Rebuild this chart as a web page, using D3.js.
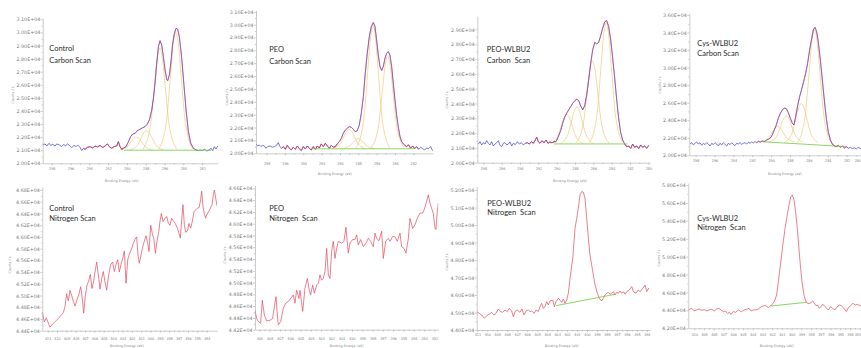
<!DOCTYPE html>
<html>
<head>
<meta charset="utf-8">
<script src="https://cdn.jsdelivr.net/npm/d3@7"></script>
<style>
  html, body { margin: 0; padding: 0; background: #fff; }
  svg { display: block; }
</style>
</head>
<body>
<svg id="chart" width="861" height="348"></svg>
<script>
// ---- data: [binding energy (eV), counts / s] ----
const controlCarbon = [[298.96,21400],[298.71,21480],[298.53,21320],[298.28,21530],[298.11,21370],[297.89,21450],[297.65,21320],[297.47,21480],[297.18,21400],[296.94,21270],[296.76,21430],[296.51,21350],[296.30,21480],[296.05,21320],[295.87,21200],[295.62,21370],[295.41,21270],[295.23,21400],[294.99,21220],[294.81,20970],[294.63,21150],[294.45,21070],[294.21,21220],[293.92,21270],[293.64,21170],[293.39,21320],[293.14,21250],[292.86,21370],[292.57,21200],[292.33,21320],[292.08,21480],[291.87,21270],[291.62,21150],[291.37,21270],[291.09,21320],[290.91,21650],[290.73,21270],[290.55,21070],[290.38,21150],[290.09,21270],[289.84,21650],[289.60,22040],[289.38,22240],[289.13,22290],[288.89,22500],[288.60,22600],[288.32,22720],[288.07,22800],[287.82,23000],[287.61,23310],[287.36,24070],[287.18,24960],[287.01,26110],[286.83,27640],[286.65,28910],[286.48,29370],[286.30,29040],[286.12,28150],[285.94,27130],[285.77,26420],[285.66,26310],[285.48,26750],[285.30,27890],[285.13,29170],[284.95,29930],[284.77,30310],[284.60,30240],[284.42,29670],[284.17,28020],[283.92,25860],[283.71,24070],[283.46,22420],[283.21,21530],[282.93,21150],[282.65,21020],[282.40,20970],[282.22,21020],[281.97,20970],[281.76,21070],[281.51,20940],[281.26,21020],[281.05,21150],[280.87,20970],[280.70,21270],[280.52,21090],[280.34,21320]];
const controlCarbonPeaks = [
  [[290.8,21010],[290.0,21240],[289.6,21600],[289.3,21880],[289.0,22000],[288.7,21880],[288.4,21600],[288.0,21240],[287.2,21010]],
  [[289.7,21020],[288.9,21360],[288.5,21900],[288.2,22320],[287.9,22500],[287.6,22320],[287.3,21900],[286.9,21360],[286.1,21020]],
  [[288.3,21080],[287.5,22900],[287.1,25680],[286.8,27860],[286.5,28800],[286.2,27860],[285.9,25680],[285.5,22900],[284.7,21080]],
  [[286.6,21090],[285.8,23190],[285.4,26400],[285.1,28920],[284.8,30000],[284.5,28920],[284.2,26400],[283.8,23190],[283.0,21090]]
];
const controlCarbonBase = [[290.3,21000],[281.0,21000]];

const peoCarbon = [[299.16,20730],[298.98,20570],[298.80,20650],[298.62,20520],[298.44,20620],[298.25,20570],[298.07,20390],[297.89,20520],[297.64,20570],[297.38,20470],[297.16,20520],[296.91,20620],[296.73,20830],[296.55,20520],[296.36,20390],[296.18,20520],[295.96,20310],[295.75,20620],[295.53,20390],[295.31,20260],[295.09,20470],[294.87,20310],[294.65,20570],[294.44,20360],[294.22,20210],[294.00,20520],[293.78,20340],[293.56,20570],[293.35,20390],[293.13,20260],[292.91,20520],[292.69,20310],[292.47,20570],[292.25,20410],[292.04,20730],[291.82,20520],[291.60,20780],[291.38,20570],[291.16,20390],[290.95,20620],[290.73,20470],[290.51,20520],[290.29,20730],[290.07,20910],[289.85,21170],[289.64,21550],[289.42,21810],[289.20,21940],[288.98,22070],[288.76,22020],[288.55,21870],[288.33,21680],[288.11,21760],[287.89,22200],[287.67,23110],[287.45,24400],[287.24,26220],[287.02,27770],[286.80,29070],[286.58,29850],[286.36,30160],[286.18,29850],[286.00,28810],[285.82,27640],[285.64,26740],[285.45,26430],[285.27,26740],[285.09,27380],[284.91,27770],[284.73,27900],[284.55,27640],[284.36,26740],[284.18,25440],[284.00,24150],[283.82,22980],[283.64,22070],[283.45,21300],[283.27,20910],[283.09,20730],[282.91,20620],[282.73,20520],[282.51,20650],[282.29,20390],[282.07,20570],[281.85,20360],[281.64,20520],[281.42,20310],[281.20,20470],[280.98,20360],[280.76,20260],[280.55,20410],[280.33,20360],[280.11,20520],[279.89,20210]];
const peoCarbonPeaks = [
  [[290.8,20370],[290.0,20710],[289.6,21250],[289.3,21670],[289.0,21850],[288.7,21670],[288.4,21250],[288.0,20710],[287.2,20370]],
  [[289.8,20360],[289.0,20540],[288.6,20830],[288.3,21050],[288.0,21150],[287.7,21050],[287.4,20830],[287.0,20540],[286.2,20360]],
  [[288.2,20450],[287.4,22680],[287.0,26110],[286.7,28800],[286.4,29950],[286.1,28800],[285.8,26110],[285.4,22680],[284.6,20450]],
  [[286.6,20420],[285.8,22100],[285.4,24670],[285.1,26690],[284.8,27550],[284.5,26690],[284.2,24670],[283.8,22100],[283.0,20420]]
];
const peoCarbonBase = [[293.0,20350],[281.9,20350]];

const peoWlbu2Carbon = [[298.55,21260],[298.36,21420],[298.18,21200],[298.00,21350],[297.82,21260],[297.64,21490],[297.45,21310],[297.27,21200],[297.09,21420],[296.91,21130],[296.73,21260],[296.55,21350],[296.36,21490],[296.18,21170],[296.00,21080],[295.82,21310],[295.64,21350],[295.45,21200],[295.27,21260],[295.09,21400],[294.91,21130],[294.73,21310],[294.51,21220],[294.29,21420],[294.07,21260],[293.85,21350],[293.64,21200],[293.42,21310],[293.20,21350],[292.98,21260],[292.76,21420],[292.55,21310],[292.33,21530],[292.18,21720],[292.00,21420],[291.82,21310],[291.60,21490],[291.38,21350],[291.16,21530],[290.95,21310],[290.73,21400],[290.51,21350],[290.29,21420],[290.07,21420],[289.82,21760],[289.56,22170],[289.35,22660],[289.13,23070],[288.91,23340],[288.69,23570],[288.47,23790],[288.25,24020],[288.04,24180],[287.82,24290],[287.60,24200],[287.38,23840],[287.16,23570],[286.95,23840],[286.73,24580],[286.51,25600],[286.29,26730],[286.07,27630],[285.85,28130],[285.64,28030],[285.42,28130],[285.20,28580],[284.98,29100],[284.76,29520],[284.55,29610],[284.33,29210],[284.11,28310],[283.89,27060],[283.67,25710],[283.45,24240],[283.24,23000],[283.02,22030],[282.80,21530],[282.58,21260],[282.36,21080],[282.15,21130],[281.93,20970],[281.71,21260],[281.49,21040],[281.27,21130],[281.05,20950],[280.84,21200],[280.62,21040],[280.40,21130],[280.18,20970],[279.96,21170]];
const peoWlbu2CarbonPeaks = [
  [[290.7,21290],[289.9,21760],[289.5,22470],[289.2,23030],[288.9,23270],[288.6,23030],[288.3,22470],[287.9,21760],[287.1,21290]],
  [[289.6,21300],[288.8,21880],[288.4,22770],[288.1,23470],[287.8,23770],[287.5,23470],[287.2,22770],[286.8,21880],[286.0,21300]],
  [[287.9,21330],[287.1,22630],[286.7,24630],[286.4,26200],[286.1,26870],[285.8,26200],[285.5,24630],[285.1,22630],[284.3,21330]],
  [[286.4,21350],[285.6,23260],[285.2,26190],[284.9,28490],[284.6,29470],[284.3,28490],[284.0,26190],[283.6,23260],[282.8,21350]]
];
const peoWlbu2CarbonBase = [[290.3,21270],[282.3,21270]];

const cysWlbu2Carbon = [[298.60,21290],[298.42,21440],[298.25,21180],[298.07,21370],[297.89,21520],[297.72,21290],[297.54,21440],[297.36,21140],[297.19,21370],[297.01,21220],[296.83,21440],[296.66,21290],[296.48,21060],[296.30,21370],[296.13,21220],[295.95,21440],[295.77,21290],[295.60,21060],[295.42,21370],[295.24,21180],[295.07,21440],[294.89,21250],[294.71,21060],[294.54,21370],[294.36,21220],[294.18,21440],[294.01,21250],[293.83,21100],[293.65,21370],[293.48,21290],[293.30,21440],[293.12,21250],[292.95,21370],[292.77,21440],[292.59,21290],[292.42,21480],[292.24,21370],[292.06,21520],[291.89,21410],[291.71,21560],[291.53,21440],[291.36,21600],[291.14,21520],[290.93,21630],[290.72,21560],[290.51,21710],[290.30,21830],[290.08,21980],[289.87,22320],[289.66,22890],[289.45,23460],[289.24,24220],[289.02,24790],[288.81,25170],[288.60,25400],[288.39,25320],[288.18,24870],[287.96,24220],[287.75,23650],[287.58,23460],[287.40,24410],[287.19,25630],[286.98,26690],[286.76,27530],[286.55,28400],[286.34,29350],[286.13,30490],[285.92,32010],[285.70,33350],[285.53,34300],[285.35,34600],[285.17,34110],[285.00,32970],[284.78,30870],[284.57,28590],[284.36,26310],[284.15,24220],[283.94,22700],[283.72,21750],[283.51,21290],[283.30,21060],[283.09,20990],[282.88,21140],[282.66,20910],[282.45,21060],[282.24,20840],[282.03,20990],[281.82,20800],[281.60,20910],[281.39,20760],[281.18,20870],[280.97,20720],[280.76,20910],[280.54,20760],[280.33,20840],[280.12,20680],[279.94,20800]];
const cysWlbu2CarbonPeaks = [
  [[291.1,21520],[290.3,21940],[289.9,22580],[289.6,23080],[289.3,23300],[289.0,23080],[288.7,22580],[288.3,21940],[287.5,21520]],
  [[290.2,21510],[289.4,22210],[289.0,23280],[288.7,24120],[288.4,24480],[288.1,24120],[287.8,23280],[287.4,22210],[286.6,21510]],
  [[288.6,21450],[287.8,22490],[287.4,24100],[287.1,25360],[286.8,25900],[286.5,25360],[286.2,24100],[285.8,22490],[285.0,21450]],
  [[287.2,21430],[286.4,24460],[286.0,29100],[285.7,32740],[285.4,34300],[285.1,32740],[284.8,29100],[284.4,24460],[283.6,21430]]
];
const cysWlbu2CarbonBase = [[291.0,21550],[282.2,21000]];

const controlNitrogen = [[411.57,44720],[411.36,44550],[411.14,44620],[410.93,44530],[410.75,44460],[410.50,44510],[410.29,44540],[410.04,44580],[409.79,44620],[409.54,44670],[409.32,44710],[409.15,44810],[408.97,45030],[408.79,44910],[408.61,45090],[408.43,45000],[408.25,44900],[408.08,44820],[407.90,44910],[407.68,45010],[407.47,45150],[407.29,44940],[407.15,44700],[406.97,45000],[406.79,45180],[406.61,45250],[406.44,45360],[406.26,45120],[406.08,45250],[405.90,45440],[405.76,45570],[405.58,45350],[405.40,45110],[405.22,45290],[405.05,45410],[404.87,45230],[404.69,45090],[404.48,45350],[404.26,45530],[404.05,45570],[403.87,45410],[403.69,45530],[403.51,45610],[403.34,45400],[403.16,45530],[402.98,45630],[402.80,45760],[402.62,45210],[402.44,45610],[402.27,45700],[402.05,45790],[401.84,45890],[401.66,45960],[401.48,46000],[401.34,45690],[401.20,45550],[401.05,45660],[400.84,45830],[400.66,45930],[400.48,46020],[400.30,45890],[400.16,45750],[399.98,46200],[399.81,46060],[399.63,45950],[399.48,45720],[399.31,45920],[399.13,46080],[398.99,46260],[398.84,46400],[398.66,46260],[398.49,46310],[398.27,46350],[398.09,46230],[397.92,46200],[397.74,46320],[397.56,46270],[397.35,46230],[397.13,46150],[396.95,46060],[396.81,45980],[396.67,46290],[396.53,46550],[396.38,46200],[396.24,46080],[396.06,46100],[395.88,46230],[395.71,46150],[395.53,46260],[395.35,46430],[395.17,46460],[394.99,46490],[394.81,46500],[394.64,46630],[394.53,46780],[394.39,46520],[394.24,46390],[394.10,46320],[393.96,46390],[393.78,46430],[393.60,46490],[393.42,46550],[393.28,46720],[393.17,46800],[393.03,46660],[392.89,46530]];

const peoNitrogen = [[409.42,44530],[409.26,44390],[409.10,44340],[408.87,44310],[408.71,44700],[408.51,44450],[408.29,44350],[407.96,44360],[407.71,44390],[407.54,44590],[407.38,44760],[407.25,44450],[407.16,44280],[406.93,44340],[406.67,44560],[406.44,44650],[406.18,44680],[405.96,44730],[405.70,44790],[405.54,44650],[405.38,44870],[405.15,44730],[405.05,44870],[404.79,44510],[404.57,44900],[404.34,45070],[404.15,44870],[404.02,44790],[403.82,44960],[403.66,44820],[403.43,44960],[403.27,44990],[403.11,45130],[402.95,45040],[402.79,45070],[402.62,45190],[402.46,45580],[402.30,45130],[402.14,45070],[401.98,45530],[401.82,45700],[401.65,45410],[401.49,45580],[401.33,45700],[401.01,45670],[400.78,45700],[400.59,45940],[400.36,45500],[400.20,45670],[399.94,45730],[399.71,45730],[399.55,45810],[399.39,45640],[399.16,45730],[398.90,45610],[398.64,45670],[398.42,45750],[398.19,45700],[397.93,45610],[397.77,45840],[397.61,45750],[397.38,45710],[397.12,45870],[396.96,45410],[396.73,45700],[396.48,45750],[396.31,45700],[396.06,45780],[395.83,45780],[395.60,45700],[395.34,45840],[395.18,45610],[394.95,45580],[394.76,45500],[394.53,45750],[394.37,46090],[394.11,45920],[393.89,45980],[393.66,46090],[393.40,46180],[393.14,46180],[392.98,46240],[392.75,46380],[392.59,46490],[392.43,46350],[392.27,46260],[392.11,46180],[391.94,45920],[391.85,45900],[391.72,46210],[391.62,46350]];

const peoWlbu2Nitrogen = [[411.07,45050],[410.80,44950],[410.57,44860],[410.30,44670],[410.06,44820],[409.80,44900],[409.56,45010],[409.33,44860],[409.13,44950],[408.89,45200],[408.66,45050],[408.46,45010],[408.22,45140],[407.99,45050],[407.79,45240],[407.56,45090],[407.39,44760],[407.22,45050],[406.99,45140],[406.72,45010],[406.52,45200],[406.32,44860],[406.12,45090],[405.88,45140],[405.72,45050],[405.55,45090],[405.31,44950],[405.11,45140],[404.88,45050],[404.71,45330],[404.55,45520],[404.38,45240],[404.21,45330],[404.04,45620],[403.88,45430],[403.71,45660],[403.44,45710],[403.27,45330],[403.11,45620],[402.87,45810],[402.71,45710],[402.54,45580],[402.37,45770],[402.20,45520],[402.04,45710],[401.87,46100],[401.70,46950],[401.43,48100],[401.20,49810],[401.03,50380],[400.87,50950],[400.70,51720],[400.53,51910],[400.36,51870],[400.20,51520],[400.03,50380],[399.86,49240],[399.70,48290],[399.53,47710],[399.36,47140],[399.19,46570],[398.96,46100],[398.76,45810],[398.53,45660],[398.36,45810],[398.19,46000],[398.02,46100],[397.86,46150],[397.69,46040],[397.52,46100],[397.35,46190],[397.19,46000],[397.02,46150],[396.85,46100],[396.69,46230],[396.52,46100],[396.35,46190],[396.18,46040],[396.02,46190],[395.75,46290],[395.51,46480],[395.35,46190],[395.08,46100],[394.85,46290],[394.68,46190],[394.41,46380],[394.18,46570],[394.01,46190],[393.80,46400]];
const peoWlbu2NitrogenBase = [[403.11,45390],[397.19,46040]];

const cysWlbu2Nitrogen = [[410.62,44050],[410.27,44230],[410.00,43930],[409.76,44050],[409.52,44160],[409.25,44010],[408.97,44080],[408.73,43930],[408.49,44050],[408.22,44120],[407.95,43930],[407.71,44160],[407.47,44230],[407.26,44050],[407.02,43860],[406.85,43930],[406.58,43670],[406.40,43790],[406.23,43560],[405.99,43860],[405.75,43790],[405.48,44050],[405.31,43930],[405.14,43860],[404.86,44050],[404.62,44120],[404.38,44230],[404.18,43930],[403.94,44050],[403.70,44050],[403.42,44160],[403.25,44310],[403.08,44420],[402.91,44490],[402.67,44530],[402.40,44310],[402.23,44460],[402.05,44600],[401.78,44980],[401.54,45720],[401.37,47210],[401.20,48700],[401.03,50190],[400.86,51670],[400.68,53160],[400.51,54280],[400.27,55770],[400.10,56700],[399.93,56880],[399.76,56330],[399.59,55020],[399.42,53160],[399.25,50930],[399.08,48700],[398.90,46840],[398.73,45720],[398.56,45050],[398.39,44790],[398.22,44750],[398.01,44870],[397.84,45050],[397.67,44790],[397.50,44530],[397.33,44600],[397.16,44230],[396.99,44420],[396.82,44680],[396.64,44530],[396.47,44310],[396.23,44050],[395.99,44420],[395.79,44230],[395.55,44050],[395.31,44420],[395.07,44600],[394.86,44490],[394.62,44230],[394.38,43860],[394.18,44310],[393.94,44530],[393.70,44790],[393.46,44600],[393.22,44680],[392.98,44530],[392.74,44420],[392.47,44600]];
const cysWlbu2NitrogenBase = [[402.12,44490],[398.46,44900]];

// tick labels
const energyTicksC = [298, 296, 294, 292, 290, 288, 286, 284, 282];
const energyTicksC280 = [298, 296, 294, 292, 290, 288, 286, 284, 282, 280];
const energyTicksN411 = [411, 410, 409, 408, 407, 406, 405, 404, 403, 402, 401, 400, 399, 398, 397, 396, 395, 394];
const energyTicksN409 = [409, 408, 407, 406, 405, 404, 403, 402, 401, 400, 399, 398, 397, 396, 395, 394, 393, 392];
const energyTicksN410 = [410, 409, 408, 407, 406, 405, 404, 403, 402, 401, 400, 399, 398, 397, 396, 395, 394, 393];
const countTicksC1 = [20000, 21000, 22000, 23000, 24000, 25000, 26000, 27000, 28000, 29000, 30000, 31000];
const countTicksC3 = [20000, 21000, 22000, 23000, 24000, 25000, 26000, 27000, 28000, 29000];
const countTicksC4 = [20000, 22000, 24000, 26000, 28000, 30000, 32000, 34000, 36000];
const countTicksN1 = [44400, 44600, 44800, 45000, 45200, 45400, 45600, 45800, 46000, 46200, 46400, 46600, 46800];
const countTicksN2 = [44200, 44400, 44600, 44800, 45000, 45200, 45400, 45600, 45800, 46000, 46200, 46400, 46600];
const countTicksN3 = [44000, 45000, 46000, 47000, 48000, 49000, 50000, 51000, 52000];
const countTicksN4 = [42000, 44000, 46000, 48000, 50000, 52000, 54000, 56000, 58000];

const BLUE = '#3b3bd6';
const RED = '#e2323c';
const NRED = '#e2485e';
const COMP = '#f0c064';
const GREEN = '#6ccb3c';
const WIDTH = 861;

// layout of the eight spectra
const panels = [
  { data: controlCarbon, peaks: controlCarbonPeaks, base: controlCarbonBase, name: ['Control', 'Carbon Scan'],
    xDomain: [298.96, 280.3], yDomain: [20000, 31100], left: 42.7, right: 218.1, top: 18.0, bottom: 163.3,
    xTicks: energyTicksC, yTicks: countTicksC1, xPad: 1.7, color: BLUE,
    regions: [{ from: 294.6, to: 290.4, kind: 'red' }, { from: 290.4, to: 282.6, kind: 'fit' }],
    nameAt: [49.3, 51], nameGap: 12, xTitleAt: [121.7, 182], yTitleAt: [12.7, 95] },
  { data: peoCarbon, peaks: peoCarbonPeaks, base: peoCarbonBase, name: ['PEO', 'Carbon Scan'],
    xDomain: [299.16, 279.85], yDomain: [20000, 31100], left: 256, right: 433, top: 10.4, bottom: 153.3,
    xTicks: energyTicksC, yTicks: countTicksC1, xPad: 7.4, color: BLUE,
    regions: [{ from: 296.2, to: 290.3, kind: 'red' }, { from: 290.3, to: 282.9, kind: 'fit' }, { from: 282.9, to: 281.6, kind: 'red' }],
    nameAt: [269.3, 52], nameGap: 12, xTitleAt: [335, 175], yTitleAt: [227, 97] },
  { data: peoWlbu2Carbon, peaks: peoWlbu2CarbonPeaks, base: peoWlbu2CarbonBase, name: ['PEO-WLBU2', 'Carbon  Scan'],
    xDomain: [298.66, 279.82], yDomain: [20000, 29900], left: 477.3, right: 650, top: 16.2, bottom: 162.7,
    xTicks: energyTicksC280, yTicks: countTicksC3, xPad: 2.4, color: BLUE,
    regions: [{ from: 293.3, to: 290.2, kind: 'red' }, { from: 290.2, to: 282.4, kind: 'fit' }, { from: 282.4, to: 279.8, kind: 'red' }],
    nameAt: [486.7, 52], nameGap: 11, xTitleAt: [570, 182], yTitleAt: [446.7, 100] },
  { data: cysWlbu2Carbon, peaks: cysWlbu2CarbonPeaks, base: cysWlbu2CarbonBase, name: ['Cys-WLBU2', 'Carbon Scan'],
    xDomain: [298.675, 279.94], yDomain: [20000, 36200], left: 689.3, right: 866, top: 13.3, bottom: 155.3,
    xTicks: energyTicksC280, yTicks: countTicksC4, xPad: 2.0, color: BLUE,
    regions: [{ from: 291.4, to: 283.4, kind: 'fit' }, { from: 283.4, to: 282.0, kind: 'red' }],
    nameAt: [697.3, 45.5], nameGap: 10, xTitleAt: [785, 174.5], yTitleAt: [660, 85] },
  { data: controlNitrogen, name: ['Control', 'Nitrogen Scan'],
    xDomain: [411.574, 392.89], yDomain: [44400, 46850], left: 42.3, right: 217, top: 187.1, bottom: 330.7,
    xTicks: energyTicksN411, yTicks: countTicksN1, xPad: 5, color: NRED,
    nameAt: [49.3, 211], nameGap: 10, xTitleAt: [127, 346.8], yTitleAt: [10, 265] },
  { data: peoNitrogen, name: ['PEO', 'Nitrogen  Scan'],
    xDomain: [409.42, 391.62], yDomain: [44200, 46650], left: 255, right: 438.3, top: 185.4, bottom: 329.7,
    xTicks: energyTicksN409, yTicks: countTicksN2, xPad: 6, color: NRED,
    nameAt: [269.3, 211], nameGap: 10, xTitleAt: [346.7, 346.8], yTitleAt: [225, 255] },
  { data: peoWlbu2Nitrogen, base: peoWlbu2NitrogenBase, name: ['PEO-WLBU2', 'Nitrogen  Scan'],
    xDomain: [411.063, 393.68], yDomain: [44000, 52200], left: 476.7, right: 650, top: 186.5, bottom: 330,
    xTicks: energyTicksN411, yTicks: countTicksN3, xPad: 1.0, color: NRED,
    nameAt: [487.3, 206], nameGap: 8.5, xTitleAt: [561.7, 346.5], yTitleAt: [446.7, 262] },
  { data: cysWlbu2Nitrogen, base: cysWlbu2NitrogenBase, name: ['Cys-WLBU2', 'Nitrogen  Scan'],
    xDomain: [410.62, 392.36], yDomain: [42000, 58200], left: 688.3, right: 866, top: 183.2, bottom: 328.3,
    xTicks: energyTicksN410, yTicks: countTicksN4, xPad: 2.7, color: NRED,
    nameAt: [697.3, 220.5], nameGap: 9.5, xTitleAt: [776.7, 346.5], yTitleAt: [658.3, 258] }
];

const svg = d3.select('#chart');
const fmtCounts = v => (v / 1e4).toFixed(2) + 'E+04';

panels.forEach(drawPanel);

// points between two energies, plus one neighbour each side so segments join up
function sliceRange(data, from, to) {
  const idx = data.map((d, i) => i).filter(i => data[i][0] <= from && data[i][0] >= to);
  const lo = Math.max(0, idx[0] - 1);
  const hi = Math.min(data.length - 1, idx[idx.length - 1] + 1);
  return data.slice(lo, hi + 1);
}

function styleAxis(sel, size, family) {
  sel.attr('font-size', size).attr('font-family', family).attr('color', '#a8a8a8');
  sel.selectAll('path, line').attr('stroke-width', 0.6);
  sel.selectAll('text').attr('fill', '#7c7c7c');
}

function drawPanel(p, i) {
  const x = d3.scaleLinear().domain(p.xDomain).range([p.left, p.right]);
  const y = d3.scaleLinear().domain(p.yDomain).range([p.bottom, p.top]);
  const g = svg.append('g').attr('class', 'panel');

  g.append('clipPath').attr('id', 'clip' + i).append('rect')
    .attr('x', p.left).attr('y', p.top - 2)
    .attr('width', p.right - p.left).attr('height', p.bottom - p.top + 2);
  const plot = g.append('g').attr('clip-path', `url(#clip${i})`);

  const line = d3.line().x(d => x(d[0])).y(d => y(d[1]));
  const smooth = d3.line().curve(d3.curveMonotoneX).x(d => x(d[0])).y(d => y(d[1]));

  // fitted components
  (p.peaks || []).forEach(pk => {
    plot.append('path').attr('d', smooth(pk))
      .attr('fill', 'none').attr('stroke', COMP).attr('stroke-width', 0.6);
  });

  // measured spectrum
  plot.append('path').attr('d', line(p.data))
    .attr('fill', 'none').attr('stroke', p.color).attr('stroke-width', 0.7);

  // red envelope / red-drawn parts
  (p.regions || []).forEach(r => {
    plot.append('path').attr('d', line(sliceRange(p.data, r.from, r.to)))
      .attr('fill', 'none').attr('stroke', RED).attr('stroke-width', 0.7)
      .attr('stroke-opacity', r.kind === 'fit' ? 0.6 : 1);
  });

  // background line
  if (p.base) {
    plot.append('path').attr('d', line(p.base))
      .attr('fill', 'none').attr('stroke', GREEN).attr('stroke-width', 0.8);
  }

  // y axis
  const yAxis = g.append('g').attr('transform', `translate(${p.left},0)`)
    .call(d3.axisLeft(y).tickValues(p.yTicks).tickFormat(fmtCounts).tickSize(2).tickSizeOuter(0).tickPadding(0.4));
  styleAxis(yAxis, 4.8, 'DejaVu Sans');
  const yMinor = g.append('g').attr('transform', `translate(${p.left},0)`)
    .call(d3.axisLeft(y).tickValues(d3.pairs(p.yTicks, (a, b) => (a + b) / 2)).tickSize(1).tickFormat(() => ''));
  yMinor.select('.domain').remove();
  styleAxis(yMinor, 4.8, 'DejaVu Sans');

  // x axis
  const xAxis = g.append('g').attr('transform', `translate(0,${p.bottom})`)
    .call(d3.axisBottom(x).tickValues(p.xTicks).tickFormat(d3.format('d')).tickSize(2).tickSizeOuter(0).tickPadding(p.xPad));
  styleAxis(xAxis, 3.7, 'DejaVu Sans Condensed, DejaVu Sans');
  // keep the last label inside the window
  xAxis.selectAll('.tick').each(function (t) {
    const pos = x(t);
    if (pos > WIDTH - 4) {
      d3.select(this).select('text').attr('text-anchor', 'end').attr('x', WIDTH - 0.5 - pos);
    }
  });
  const xMinor = g.append('g').attr('transform', `translate(0,${p.bottom})`)
    .call(d3.axisBottom(x).tickValues(d3.pairs(p.xTicks, (a, b) => (a + b) / 2)).tickSize(1.2).tickFormat(() => ''));
  xMinor.select('.domain').remove();
  styleAxis(xMinor, 3.7, 'DejaVu Sans');

  // axis titles
  g.append('text').attr('x', p.xTitleAt[0]).attr('y', p.xTitleAt[1])
    .attr('text-anchor', 'middle').attr('font-family', 'DejaVu Sans').attr('font-size', 3.4)
    .attr('fill', '#888').text('Binding Energy (eV)');
  g.append('text').attr('transform', `translate(${p.yTitleAt[0]},${p.yTitleAt[1]}) rotate(-90)`)
    .attr('text-anchor', 'middle').attr('dy', '0.35em').attr('font-family', 'DejaVu Sans').attr('font-size', 3.4)
    .attr('fill', '#888').text('Counts / s');

  // sample name
  p.name.forEach((t, k) => {
    g.append('text').attr('x', p.nameAt[0]).attr('y', p.nameAt[1] + k * p.nameGap)
      .attr('font-family', 'Lato, "Open Sans", sans-serif').attr('font-size', 7.5)
      .attr('fill', '#2b2b2b').style('white-space', 'pre').text(t);
  });
}
</script>
</body>
</html>
